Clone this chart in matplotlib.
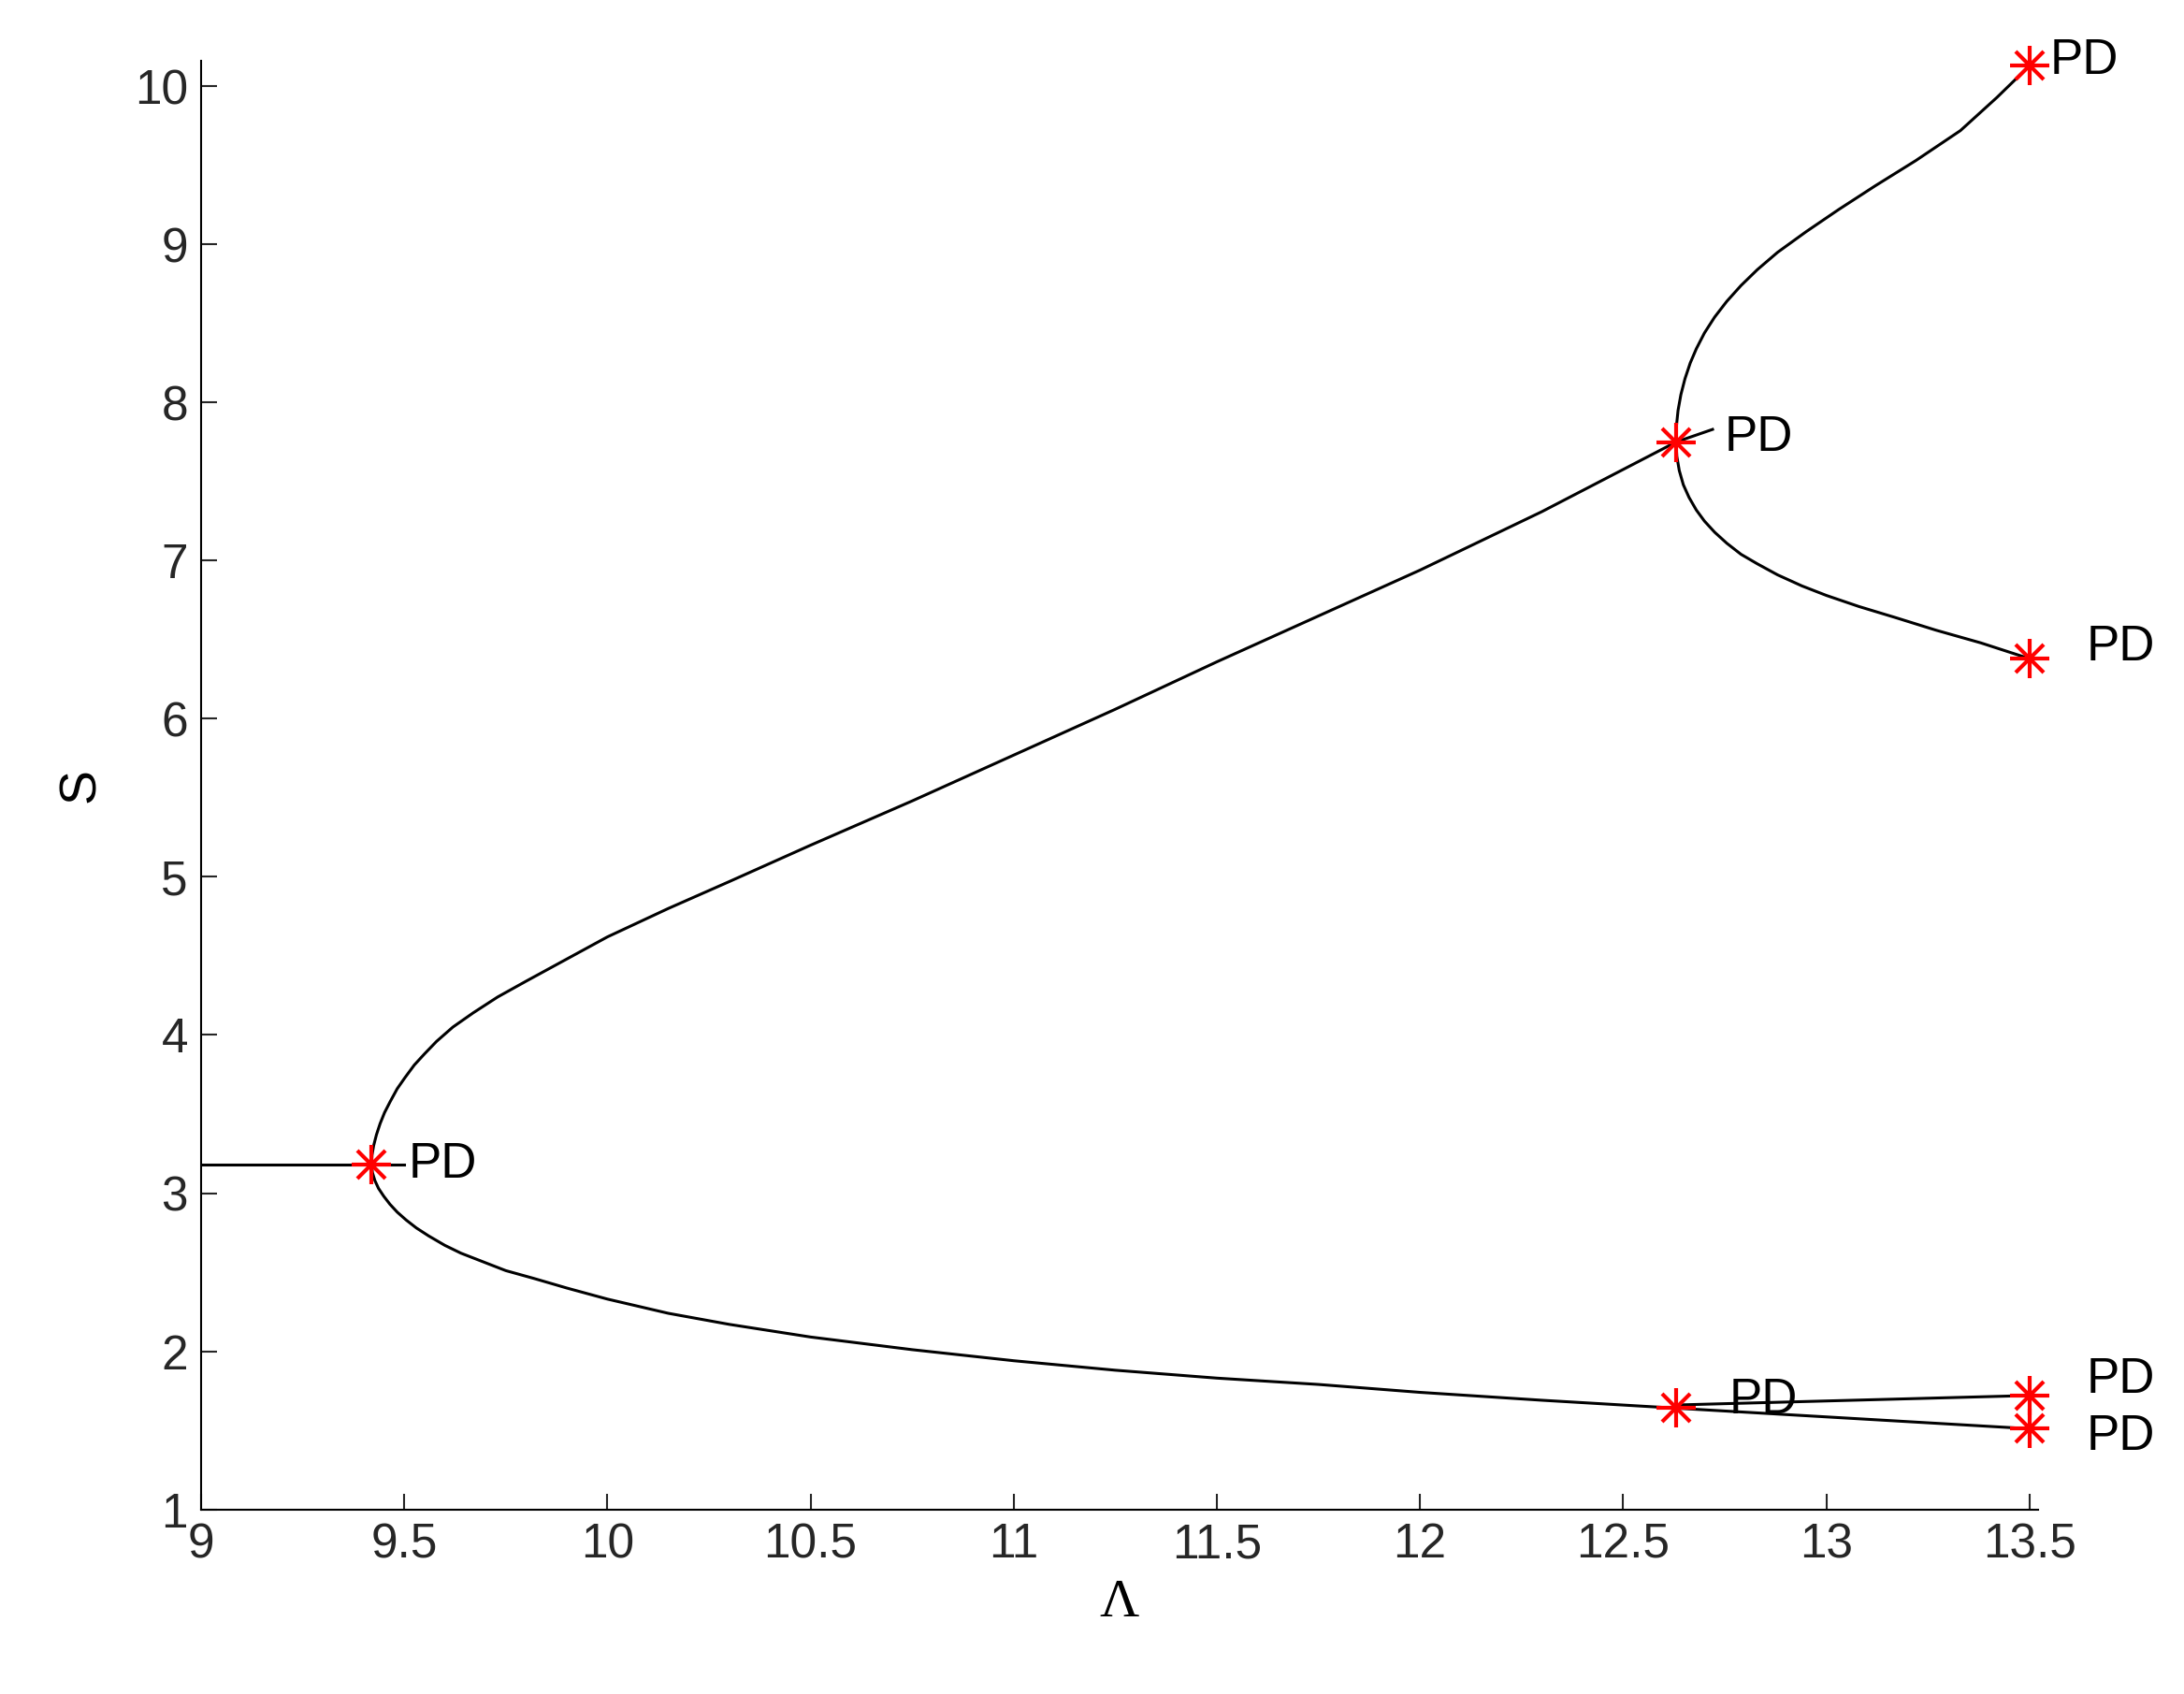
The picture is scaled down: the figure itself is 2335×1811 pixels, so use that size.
import matplotlib
matplotlib.use("Agg")
import matplotlib.pyplot as plt

plt.rcParams['font.family'] = ['Liberation Sans', 'DejaVu Sans']

# branch points (Lambda, S)
trivial_l = [9.0, 9.42, 9.5]
trivial_s = [3.18, 3.18, 3.18]

upper_l = [9.42, 9.421, 9.425, 9.432, 9.441, 9.452, 9.466, 9.483, 9.502, 9.525, 9.55, 9.58,
           9.62, 9.67, 9.73, 9.8, 9.9, 10.0, 10.15, 10.3, 10.5, 10.75, 11.0, 11.25, 11.5,
           11.75, 12.0, 12.3, 12.63, 12.72]
upper_s = [3.18, 3.24, 3.3, 3.37, 3.44, 3.51, 3.58, 3.66, 3.73, 3.81, 3.88, 3.96,
           4.05, 4.14, 4.24, 4.34, 4.48, 4.62, 4.8, 4.97, 5.2, 5.48, 5.77, 6.06, 6.36,
           6.65, 6.94, 7.31, 7.75, 7.83]

lower_l = [9.42, 9.422, 9.428, 9.437, 9.45, 9.465, 9.483, 9.505, 9.53, 9.56, 9.6, 9.64,
           9.69, 9.75, 9.82, 9.9, 10.0, 10.15, 10.3, 10.5, 10.75, 11.0, 11.25, 11.5,
           11.75, 12.0, 12.3, 12.63, 13.5]
lower_s = [3.18, 3.13, 3.08, 3.03, 2.98, 2.93, 2.88, 2.83, 2.78, 2.73, 2.67, 2.62,
           2.57, 2.51, 2.46, 2.4, 2.33, 2.24, 2.17, 2.09, 2.01, 1.94, 1.88, 1.83,
           1.79, 1.74, 1.69, 1.64, 1.51]

top_l = [12.63, 12.631, 12.635, 12.642, 12.652, 12.665, 12.68, 12.7, 12.725, 12.755, 12.79,
         12.83, 12.88, 12.95, 13.03, 13.12, 13.22, 13.33, 13.42, 13.5]
top_s = [7.75, 7.85, 7.95, 8.05, 8.15, 8.25, 8.34, 8.44, 8.54, 8.64, 8.74,
         8.84, 8.95, 9.08, 9.22, 9.37, 9.53, 9.72, 9.93, 10.13]

mid_l = [12.63, 12.632, 12.638, 12.648, 12.662, 12.68, 12.7, 12.725, 12.755, 12.79, 12.83,
         12.88, 12.94, 13.0, 13.08, 13.17, 13.27, 13.38, 13.5]
mid_s = [7.75, 7.66, 7.57, 7.48, 7.4, 7.32, 7.25, 7.18, 7.11, 7.04, 6.98,
         6.91, 6.84, 6.78, 6.71, 6.64, 6.56, 6.48, 6.38]

low2_l = [12.63, 13.5]
low2_s = [1.66, 1.72]

pd_l = [9.42, 12.63, 13.5, 13.5, 12.63, 13.5, 13.5]
pd_s = [3.18, 7.75, 10.13, 6.38, 1.64, 1.72, 1.51]
pd_text_dx = [0.09, 0.12, 0.05, 0.14, 0.13, 0.14, 0.14]
pd_text_dy = [0.0, 0.03, 0.03, 0.07, 0.05, 0.1, -0.05]

fig = plt.figure(figsize=(23.35, 18.11), dpi=100)
ax = fig.add_axes([0.092, 0.109, 0.841, 0.855])

for xs, ys in [(trivial_l, trivial_s), (upper_l, upper_s), (lower_l, lower_s),
               (top_l, top_s), (mid_l, mid_s), (low2_l, low2_s)]:
    ax.plot(xs, ys, color='black', lw=2.2)

# MATLAB-style asterisk: plus and cross on top of each other
for m, ms in [('+', 30), ('x', 22)]:
    ax.plot(pd_l, pd_s, linestyle='none', marker=m, color='red',
            markersize=ms, markeredgewidth=3, clip_on=False, zorder=5)
for x, y, dx, dy in zip(pd_l, pd_s, pd_text_dx, pd_text_dy):
    ax.text(x + dx, y + dy, 'PD', fontsize=38, va='center', ha='left')

ax.set_xlim(9, 13.52)
ax.set_ylim(1, 10.16)
ax.set_xticks([9, 9.5, 10, 10.5, 11, 11.5, 12, 12.5, 13, 13.5])
ax.set_xticklabels(['9', '9.5', '10', '10.5', '11', '11.5', '12', '12.5', '13', '13.5'])
ax.set_yticks(range(1, 11))
ax.tick_params(direction='in', length=12, width=1.5, labelsize=37, pad=10, colors='#262626')
for side in ['top', 'right']:
    ax.spines[side].set_visible(False)
for side in ['left', 'bottom']:
    ax.spines[side].set_linewidth(1.5)
ax.set_xlabel('Λ', fontsize=42, family='Liberation Serif', labelpad=8)
ax.set_ylabel('S', fontsize=40, labelpad=22)

fig.savefig('out.png', dpi=100)
